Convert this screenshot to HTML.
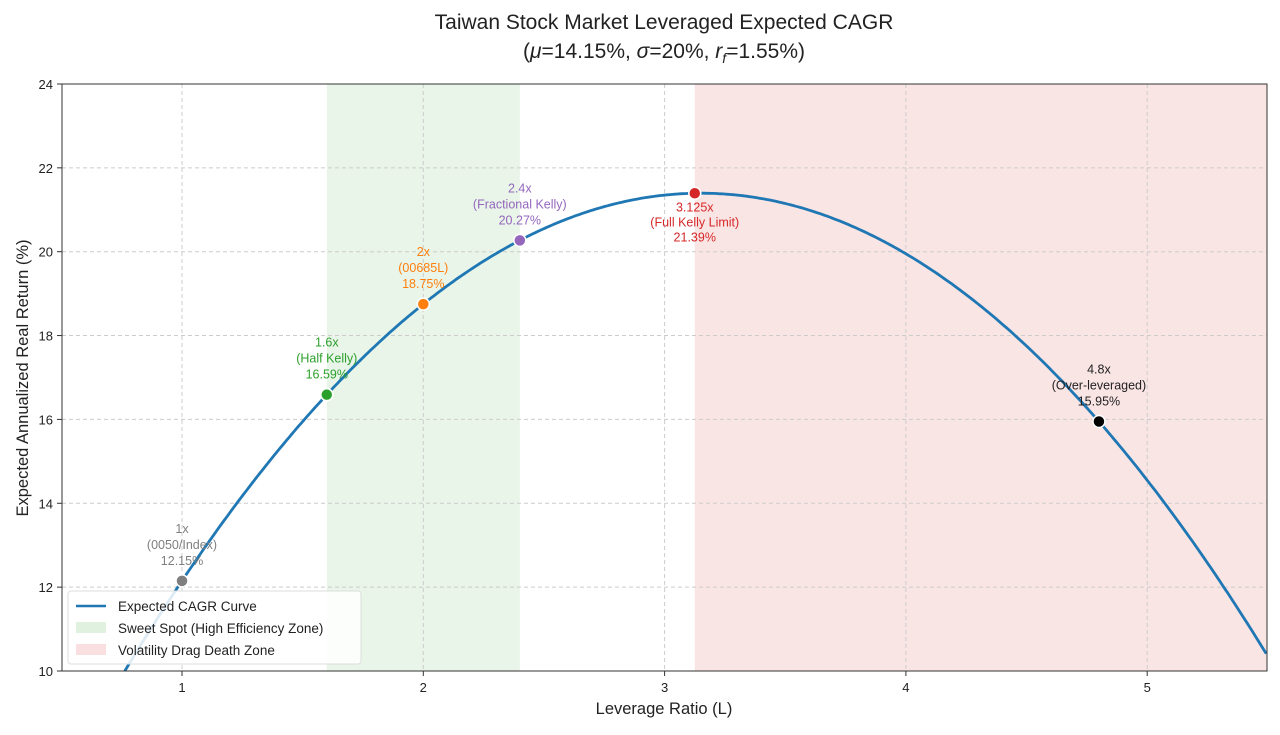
<!DOCTYPE html>
<html><head><meta charset="utf-8"><style>
body{margin:0;background:#fff;}
svg text{font-family:"Liberation Sans",sans-serif;}
</style></head><body>
<svg id="s" width="1280" height="730" xmlns="http://www.w3.org/2000/svg"></svg>
<script>
const s=document.getElementById('s');
const X0=62,X1=1267,Y0=84,Y1=671;
const xs=L=>182+(L-1)*241.3, ys=v=>671-(v-10)*41.93;
let h='';
h+=`<rect x="${xs(1.6)}" y="${Y0}" width="${xs(2.4)-xs(1.6)}" height="${Y1-Y0}" fill="rgba(44,160,44,0.11)"/>`;
h+=`<rect x="${xs(3.125)}" y="${Y0}" width="${X1-xs(3.125)}" height="${Y1-Y0}" fill="rgba(214,39,40,0.12)"/>`;
for(let i=1;i<=5;i++){h+=`<line x1="${xs(i)}" x2="${xs(i)}" y1="${Y0}" y2="${Y1}" stroke="#ccc" stroke-dasharray="4,3"/>`;
h+=`<line x1="${xs(i)}" x2="${xs(i)}" y1="${Y1}" y2="${Y1+5}" stroke="#333"/><text x="${xs(i)}" y="${Y1+21}" font-size="13" text-anchor="middle" fill="#222">${i}</text>`;}
for(let v=10;v<=24;v+=2){h+=`<line x1="${X0}" x2="${X1}" y1="${ys(v)}" y2="${ys(v)}" stroke="#ccc" stroke-dasharray="4,3"/>`;
h+=`<line x1="${X0-5}" x2="${X0}" y1="${ys(v)}" y2="${ys(v)}" stroke="#333"/><text x="${X0-9}" y="${ys(v)+5}" font-size="13" text-anchor="end" fill="#222">${v}</text>`;}
let d='';
for(let L=0.763;L<=5.5001;L+=0.01){const f=1.55+12.6*L-2*L*L;d+=(d?'L':'M')+xs(L).toFixed(1)+','+ys(f).toFixed(1);}
h+=`<path d="${d}" fill="none" stroke="#1f77b4" stroke-width="2.8"/>`;
h+=`<rect x="${X0}" y="${Y0}" width="${X1-X0}" height="${Y1-Y0}" fill="none" stroke="#333" stroke-width="1"/>`;
const pts=[[1,'#7f7f7f',['1x','(0050/Index)','12.15%'],-1],[1.6,'#2ca02c',['1.6x','(Half Kelly)','16.59%'],-1],[2,'#ff7f0e',['2x','(00685L)','18.75%'],-1],[2.4,'#9467bd',['2.4x','(Fractional Kelly)','20.27%'],-1],[3.125,'#d62728',['3.125x','(Full Kelly Limit)','21.39%'],1],[4.8,'#000',['4.8x','(Over-leveraged)','15.95%'],-1]];
for(const [L,c,t,dir] of pts){const f=1.55+12.6*L-2*L*L,x=xs(L),y=ys(f);
h+=`<circle cx="${x}" cy="${y}" r="6" fill="${c}" stroke="#fff" stroke-width="1.5"/>`;
t.forEach((l,i)=>{const ty=dir<0? y-52+i*16+4 : y+14+i*15+4;
h+=`<text x="${x}" y="${ty}" font-size="12.5" text-anchor="middle" fill="${c=='#000'?'#222':c}">${l}</text>`;});}
h+=`<rect x="68" y="591" width="293" height="73" rx="3" fill="rgba(255,255,255,0.85)" stroke="#ddd"/>`;
h+=`<line x1="76" x2="106" y1="606" y2="606" stroke="#1f77b4" stroke-width="2.6"/><text x="118" y="611" font-size="13.5" fill="#222">Expected CAGR Curve</text>`;
h+=`<rect x="76" y="622" width="30" height="11" fill="rgba(44,160,44,0.15)"/><text x="118" y="633" font-size="13.5" fill="#222">Sweet Spot (High Efficiency Zone)</text>`;
h+=`<rect x="76" y="644" width="30" height="11" fill="rgba(214,39,40,0.15)"/><text x="118" y="655" font-size="13.5" fill="#222">Volatility Drag Death Zone</text>`;
h+=`<text x="664" y="29" font-size="21" text-anchor="middle" fill="#222">Taiwan Stock Market Leveraged Expected CAGR</text>`;
h+=`<text x="664" y="58" font-size="21" text-anchor="middle" fill="#222">(<tspan font-style="italic">μ</tspan>=14.15%, <tspan font-style="italic">σ</tspan>=20%, <tspan font-style="italic">r</tspan><tspan font-size="14" font-style="italic" dy="5">f</tspan><tspan dy="-5">=1.55%)</tspan></text>`;
h+=`<text x="664" y="714" font-size="16.5" text-anchor="middle" fill="#222">Leverage Ratio (L)</text>`;
h+=`<text transform="translate(28,378) rotate(-90)" font-size="16.5" text-anchor="middle" fill="#222">Expected Annualized Real Return (%)</text>`;
s.innerHTML=h;
</script>
</body></html>
